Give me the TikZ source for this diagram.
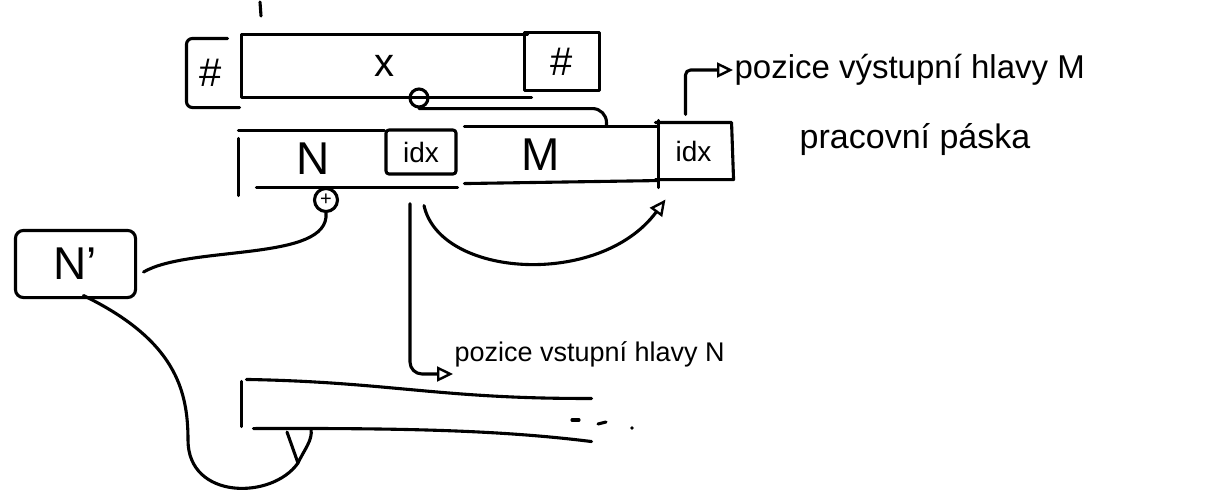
\documentclass[tikz,border=0pt]{standalone}
\usepackage{fontspec}
\setmainfont{Liberation Sans}
\usetikzlibrary{arrows.meta}
\begin{document}
\begin{tikzpicture}[x=1pt, y=-1pt, line width=3.1pt, line cap=round, line join=round,
  cell/.style={inner sep=0pt, minimum width=#1},
  tall/.style={minimum height=#1},
  sym/.style={font=\fontsize{40}{40}\selectfont},
  letter/.style={font=\fontsize{46}{46}\selectfont},
  small/.style={font=\fontsize{28}{28}\selectfont},
  note/.style={inner sep=0pt, font=\fontsize{#1}{#1}\selectfont},
  head/.style={circle, draw, inner sep=0pt, minimum size=#1},
  tip/.style={-{Triangle[open, length=16pt, width=15pt, line width=2.4pt]}}]
\useasboundingbox (0,0) rectangle (1211,491);

% input tape with end markers
\node[cell=46pt, tall=66pt, sym] (hashL) at (211,73) {\#};
\node[cell=283pt, tall=60pt, sym] (xcell) at (384.5,66) {x};
\node[cell=72pt, tall=55pt, sym] (hashR) at (562,61.5) {\#};
\draw[rounded corners=6pt] ([xshift=-8pt]hashL.north east) -- (hashL.north west)
  -- (hashL.south west) -- ([xshift=4pt]hashL.south east);
\draw (xcell.north east) -- (xcell.north west) -- (xcell.south west) -- ([xshift=4pt]xcell.south east);
\draw (hashR.north west) rectangle (hashR.south east);
\draw (260,2) -- (261,16);

% working tape: cell N with its index, cell M with its index
\node[cell=146pt, tall=54pt, letter] (Ncell) at (313,159) {N};
\node[cell=70pt, tall=44pt, small, draw, rounded corners=3pt] (idxN) at (421,152) {idx};
\node[cell=191pt, tall=54pt, letter, label={[letter, xshift=-21pt]center:M}] (Mcell) at (561.5,155) {};
\node[cell=73pt, tall=54pt, small] (idxM) at (693.5,151) {idx};
\draw ([yshift=-2pt]idxN.north west) -- (Ncell.north west);
\draw ([yshift=-8pt]Ncell.north west) -- ([yshift=-8pt]Ncell.south west);
\draw ([xshift=18pt]Ncell.south west) -- (Ncell.south -| idxN.east);
\draw (Mcell.north west) -- (Mcell.north east);
\draw (Mcell.south west) -- ([yshift=3pt]Mcell.south east);
\draw ([yshift=6pt]Mcell.north east) -- ([yshift=-4pt]Mcell.south east);
\draw (idxM.north west) -- (idxM.north east) -- ([xshift=2pt]idxM.south east) -- (idxM.south west);

% heads
\node[head=18pt] (headX) at (419,98) {};
\node[head=23pt, font=\fontsize{20}{20}\selectfont] (headN) at (326,200) {+};
\draw[rounded corners=14pt] (headX.south) -| ([xshift=45pt]Mcell.north);

% copy of N
\node[cell=117pt, tall=64pt, letter] (Nprime) at (75.5,264) {N'};
\draw[rounded corners=8pt] (Nprime.north west) rectangle (Nprime.south east);
\draw (headN.south) .. controls (330,262) and (190,245) .. ([xshift=8pt,yshift=-8pt]Nprime.east);

% index move and labels
\node[note=33, anchor=west] (textM) at (733,70) {pozice výstupní hlavy M};
\node[note=34] (tape) at (915,140) {pracovní páska};
\node[note=27, anchor=west] (textN) at (453,354) {pozice vstupní hlavy N};
\draw[tip, rounded corners=5pt] ([xshift=-8pt,yshift=8pt]idxM.north) |- (textM.west);
\draw[tip, rounded corners=12pt] ([xshift=-11pt,yshift=-28pt]idxN.south) |- ([yshift=-20pt]textN.west);
\draw[tip] ([xshift=3pt,yshift=-30pt]idxN.south) .. controls (440,278) and (600,288)
  .. ([xshift=10pt,yshift=-20pt]idxM.south west);

% lower tape, continuing to the right
\node[cell=347pt, tall=44pt] (lower) at (416.5,412) {};
\coordinate (headB) at (298,463);
\draw ([yshift=7pt]lower.north west) -- ([yshift=9pt]lower.south west);
\draw ([xshift=5pt,yshift=9pt]lower.north west) .. controls (390,382) and (440,399)
  .. ([yshift=-10pt]lower.north east);
\draw ([xshift=12pt,yshift=7pt]lower.south west) .. controls (400,428) and (500,430)
  .. ([yshift=-6pt]lower.south east);
\draw (572,420) -- (579,420);
\draw (598,424) -- (606,422);
\fill (632,428) circle (1.8pt);
\draw (287,432) -- (headB) .. controls (304,450) and (313,440) .. (311,429);
\draw ([xshift=8pt,yshift=2pt]Nprime.south) .. controls (175,340) and (188,390)
  .. (188,440) .. controls (188,500) and (272,500) .. (headB);
\end{tikzpicture}
\end{document}
